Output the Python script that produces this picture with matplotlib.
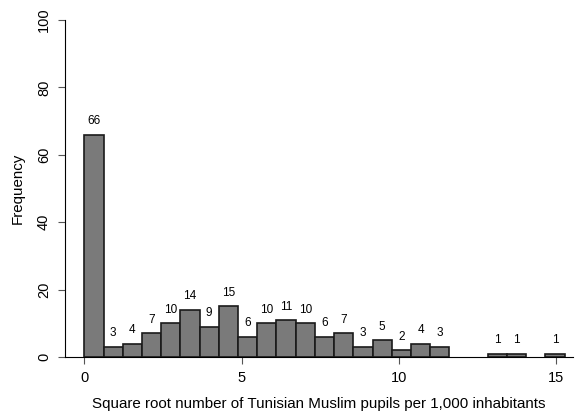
import matplotlib
matplotlib.use('Agg')
import matplotlib.pyplot as plt
import numpy as np

plt.rcParams['font.family'] = ['Liberation Sans', 'DejaVu Sans']

# histogram bins (width ~0.611) and counts
bin_width = 0.611
counts = [66, 3, 4, 7, 10, 14, 9, 15, 6, 10, 11, 10, 6, 7, 3, 5, 2, 4, 3, 0, 0, 1, 1, 0, 1]
x_ticks = [0, 5, 10, 15]
y_ticks = [0, 20, 40, 60, 80, 100]

edges = np.arange(len(counts)) * bin_width
counts = np.array(counts)
keep = counts > 0

fig = plt.figure(figsize=(5.77, 4.17), dpi=100, facecolor='white')
ax = fig.add_axes([65/577, 60/417, (573-65)/577, 337/417])

ax.bar(edges[keep], counts[keep], width=bin_width, align='edge', color='#7a7a7a',
       edgecolor='#1a1a1a', linewidth=1.2)

for x, c in zip(edges[keep], counts[keep]):
    ax.text(x + bin_width/2, c + 2.2, str(c), ha='center', va='bottom', fontsize=8.5)

ax.set_xlim(-0.614, 15.54)
ax.set_ylim(0, 100)
ax.set_xticks(x_ticks)
ax.set_yticks(y_ticks)
ax.set_yticklabels([str(t) for t in y_ticks], rotation=90, va='center')
ax.tick_params(axis='both', labelsize=10.5, length=5, width=0.8, color='#555555', pad=5)

ax.spines['top'].set_visible(False)
ax.spines['right'].set_visible(False)
ax.spines['left'].set_linewidth(0.8)
ax.spines['bottom'].set_linewidth(0.8)

ax.set_xlabel("Square root number of Tunisian Muslim pupils per 1,000 inhabitants", fontsize=10.9, labelpad=9)
ax.set_ylabel("Frequency", fontsize=10.9, labelpad=9)

plt.savefig('out.png', dpi=100, facecolor='white')
